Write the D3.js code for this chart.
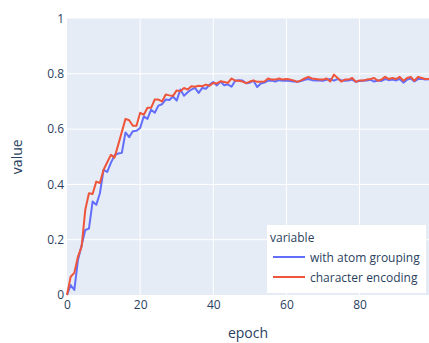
<!DOCTYPE html>
<html>
<head>
<meta charset="utf-8">
<script src="https://cdn.jsdelivr.net/npm/d3@7"></script>
<style>
  html, body { margin: 0; padding: 0; background: #fff; }
  svg { display: block; font-family: "Open Sans", sans-serif; }
</style>
</head>
<body>
<svg id="chart" width="429" height="343"></svg>
<script>
const seriesNames = ["with atom grouping", "character encoding"];
const seriesColors = ["#636efa", "#EF553B"];
const epochs = d3.range(0, 100);
const atomGrouping = [
  0.0, 0.036, 0.018, 0.127, 0.18, 0.235, 0.24, 0.338, 0.326, 0.368,
  0.453, 0.445, 0.478, 0.505, 0.512, 0.514, 0.588, 0.571, 0.592, 0.594,
  0.604, 0.646, 0.637, 0.67, 0.659, 0.685, 0.69, 0.707, 0.705, 0.718,
  0.703, 0.743, 0.721, 0.733, 0.743, 0.749, 0.731, 0.749, 0.746, 0.761,
  0.77, 0.758, 0.772, 0.758, 0.762, 0.753, 0.775, 0.777, 0.776, 0.766,
  0.768, 0.775, 0.752, 0.765, 0.768, 0.775, 0.776, 0.772, 0.777, 0.775,
  0.776, 0.774, 0.772, 0.771, 0.774, 0.778, 0.781, 0.777, 0.776, 0.776,
  0.775, 0.778, 0.781, 0.775, 0.781, 0.777, 0.775, 0.776, 0.779, 0.771,
  0.774, 0.775, 0.776, 0.778, 0.772, 0.776, 0.774, 0.781, 0.777, 0.779,
  0.776, 0.781, 0.768, 0.779, 0.783, 0.772, 0.781, 0.782, 0.779, 0.78
];
const characterEncoding = [
  0.0, 0.066, 0.08, 0.139, 0.175, 0.308, 0.368, 0.365, 0.41, 0.405,
  0.453, 0.48, 0.507, 0.497, 0.543, 0.59, 0.637, 0.632, 0.612, 0.612,
  0.659, 0.652, 0.677, 0.677, 0.707, 0.707, 0.70, 0.725, 0.722, 0.72,
  0.74, 0.737, 0.749, 0.743, 0.755, 0.753, 0.757, 0.755, 0.761, 0.757,
  0.767, 0.765, 0.773, 0.77, 0.767, 0.783, 0.775, 0.775, 0.772, 0.766,
  0.772, 0.776, 0.771, 0.771, 0.772, 0.783, 0.779, 0.779, 0.783, 0.779,
  0.781, 0.779, 0.776, 0.771, 0.776, 0.783, 0.789, 0.783, 0.781, 0.779,
  0.779, 0.783, 0.772, 0.797, 0.785, 0.772, 0.779, 0.779, 0.785, 0.771,
  0.776, 0.776, 0.779, 0.781, 0.785, 0.775, 0.779, 0.789, 0.781, 0.785,
  0.781, 0.789, 0.775, 0.785, 0.789, 0.775, 0.789, 0.785, 0.781, 0.781
];
const xTicks = [0, 20, 40, 60, 80];
const yTicks = [0, 0.2, 0.4, 0.6, 0.8, 1];
const yTickLabels = ["0", "0.2", "0.4", "0.6", "0.8", "1"];
const xTitle = "epoch";
const yTitle = "value";
const legendTitle = "variable";

const svg = d3.select("#chart");
const W = 429, H = 343;
const m = { left: 67, right: 0, top: 18.5, bottom: 48 };
const x = d3.scaleLinear().domain([0, 99]).range([m.left, W - m.right]);
const y = d3.scaleLinear().domain([0, 1]).range([H - m.bottom, m.top]);
const textColor = "#2a3f5f";

svg.append("rect")
  .attr("x", m.left).attr("y", m.top)
  .attr("width", W - m.right - m.left).attr("height", H - m.bottom - m.top)
  .attr("fill", "#E5ECF6");

// gridlines
svg.append("g").selectAll("line").data(xTicks.filter(d => d > 0)).join("line")
  .attr("x1", d => x(d)).attr("x2", d => x(d))
  .attr("y1", m.top).attr("y2", H - m.bottom)
  .attr("stroke", "#fff").attr("stroke-width", 1);
svg.append("g").selectAll("line").data(yTicks.filter(d => d > 0 && d < 1)).join("line")
  .attr("x1", m.left).attr("x2", W - m.right)
  .attr("y1", d => y(d)).attr("y2", d => y(d))
  .attr("stroke", "#fff").attr("stroke-width", 1);

// axes
const xAxis = d3.axisBottom(x).tickValues(xTicks).tickSize(0).tickPadding(5);
const gx = svg.append("g").attr("transform", `translate(0,${H - m.bottom})`).call(xAxis);
gx.select(".domain").remove();
gx.selectAll("text").attr("fill", textColor).style("font-size", "12px").style("font-family", "'Open Sans', sans-serif");

const yAxis = d3.axisLeft(y).tickValues(yTicks).tickFormat((d, i) => yTickLabels[i]).tickSize(0).tickPadding(3);
const gy = svg.append("g").attr("transform", `translate(${m.left},0)`).call(yAxis);
gy.select(".domain").remove();
gy.selectAll("text").attr("fill", textColor).style("font-size", "12px").style("font-family", "'Open Sans', sans-serif");

// titles
svg.append("text").attr("x", (m.left + W - m.right) / 2).attr("y", 338)
  .attr("text-anchor", "middle").attr("fill", textColor).style("font-size", "14px").text(xTitle);
svg.append("text").attr("transform", `translate(22,${(m.top + H - m.bottom) / 2}) rotate(-90)`)
  .attr("text-anchor", "middle").attr("fill", textColor).style("font-size", "14px").text(yTitle);

// lines
const series = [atomGrouping, characterEncoding];
const line = d3.line().x((d, i) => x(epochs[i])).y(d => y(d));
series.forEach((vals, k) => {
  svg.append("path").datum(vals)
    .attr("d", line)
    .attr("fill", "none")
    .attr("stroke", seriesColors[k])
    .attr("stroke-width", 2)
    .attr("stroke-linejoin", "round");
});

// legend
const lg = svg.append("g").attr("transform", "translate(267,225)");
lg.append("rect").attr("width", 159).attr("height", 68).attr("fill", "#fff");
lg.append("text").attr("x", 3).attr("y", 16.5).attr("fill", textColor).style("font-size", "12px").text(legendTitle);
seriesNames.forEach((name, k) => {
  const yy = 32 + k * 20;
  lg.append("line").attr("x1", 6).attr("x2", 38).attr("y1", yy).attr("y2", yy)
    .attr("stroke", seriesColors[k]).attr("stroke-width", 2);
  lg.append("text").attr("x", 43).attr("y", yy + 4.5).attr("fill", textColor)
    .style("font-size", "12px").text(name);
});
</script>
</body>
</html>
